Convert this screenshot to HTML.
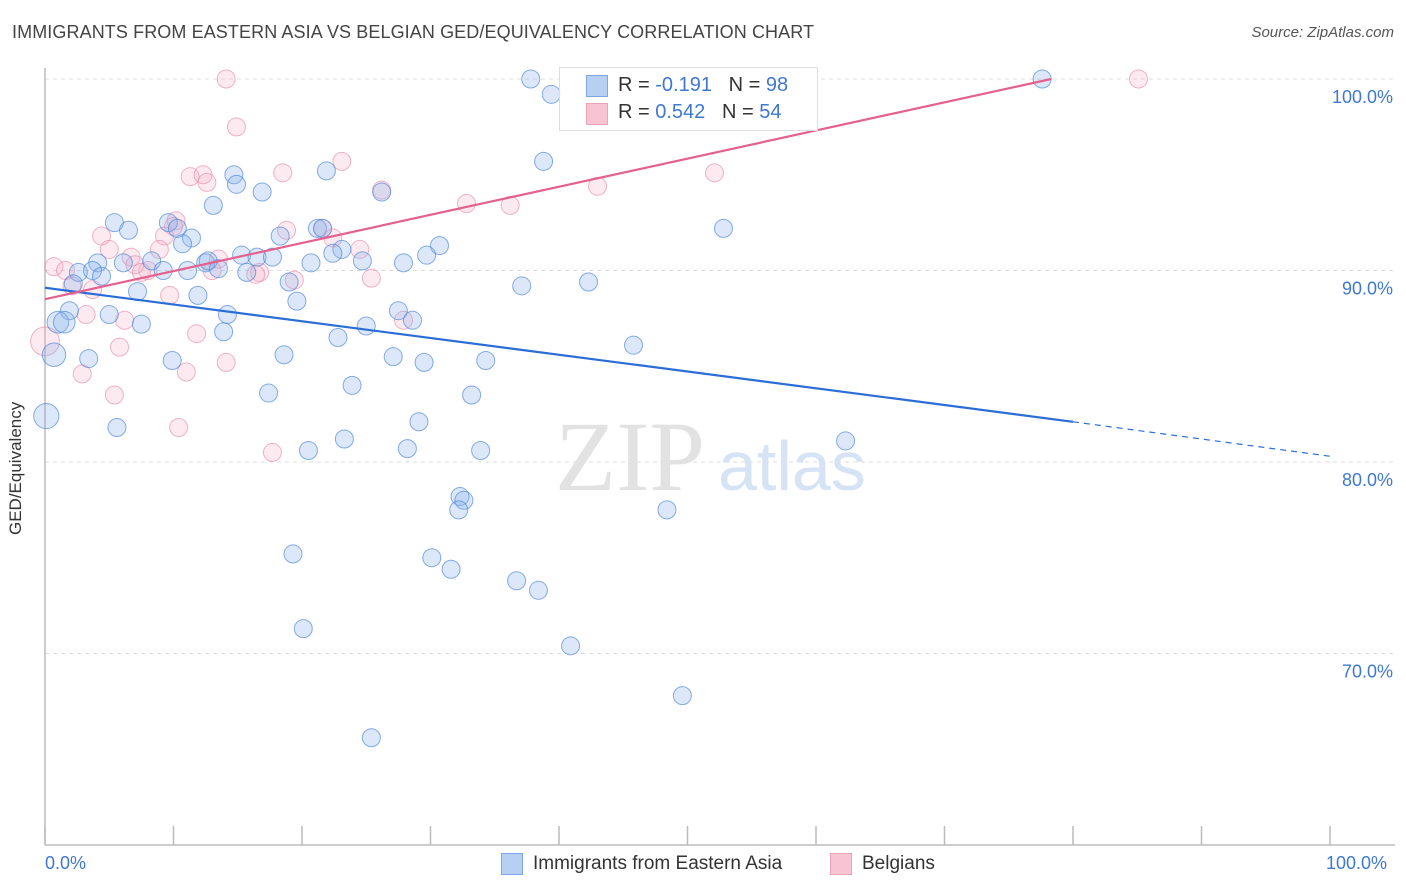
<!DOCTYPE html>
<html><head><meta charset="utf-8">
<style>
body{margin:0;background:#fff;font-family:"Liberation Sans",sans-serif;}
#wrap{position:relative;width:1406px;height:892px;overflow:hidden;}
.t{position:absolute;white-space:nowrap;}
</style></head>
<body>
<div id="wrap">
<div class="t" style="left:12px;top:22px;font-size:18px;color:#444;letter-spacing:0.1px">IMMIGRANTS FROM EASTERN ASIA VS BELGIAN GED/EQUIVALENCY CORRELATION CHART</div>
<div class="t" style="right:12px;top:24px;font-size:15px;color:#555;font-style:italic">Source: ZipAtlas.com</div>
<svg id="svg" width="1406" height="892" style="position:absolute;left:0;top:0"></svg>
</div>
<script>
const yTicks=[100,90,80,70];
const yTickLabels=["100.0%","90.0%","80.0%","70.0%"];
const xTicks=[0,10,20,30,40,50,60,70,80,90,100];
const blueX=[37.8,43.0,39.4,38.8,21.9,14.7,14.9,16.9,26.2,13.1,5.4,9.6,6.5,10.3,21.2,21.6,52.8,11.4,18.3,10.7,30.7,23.1,29.7,15.3,16.5,17.7,12.5,22.4,20.7,24.7,12.7,6.1,8.3,27.9,4.1,9.2,11.1,15.7,13.5,2.6,3.7,4.4,19.0,42.3,37.1,2.2,7.2,11.9,19.6,1.9,5.0,14.2,27.5,28.6,1.0,1.5,7.5,25.0,13.9,22.8,45.8,0.7,18.6,27.1,9.9,3.4,29.5,34.3,23.9,17.4,33.2,0.1,5.6,29.1,23.3,62.3,20.5,28.2,33.9,32.3,32.6,32.2,48.4,19.3,30.1,31.6,36.7,38.4,40.9,20.1,49.6,25.4,77.6];
const blueY=[100,99.8,99.2,95.7,95.2,95.0,94.5,94.1,94.1,93.4,92.5,92.5,92.1,92.2,92.2,92.2,92.2,91.7,91.8,91.4,91.3,91.1,90.8,90.8,90.7,90.7,90.4,90.9,90.4,90.5,90.5,90.4,90.5,90.4,90.4,90.0,90.0,89.9,90.1,89.9,90.0,89.7,89.4,89.4,89.2,89.3,88.9,88.7,88.4,87.9,87.7,87.7,87.9,87.4,87.3,87.3,87.2,87.1,86.8,86.5,86.1,85.6,85.6,85.5,85.3,85.4,85.2,85.3,84.0,83.6,83.5,82.4,81.8,82.1,81.2,81.1,80.6,80.7,80.6,78.2,78.0,77.5,77.5,75.2,75.0,74.4,73.8,73.3,70.4,71.3,67.8,65.6,100];
const blueSize=[1,1,1,1,1,1,1,1,1,1,1,1,1,1,1,1,1,1,1,1,1,1,1,1,1,1,1,1,1,1,1,1,1,1,1,1,1,1,1,1,1,1,1,1,1,1,1,1,1,1,1,1,1,1,1.2,1.2,1,1,1,1,1,1.3,1,1,1,1,1,1,1,1,1,1.4,1,1,1,1,1,1,1,1,1,1,1,1,1,1,1,1,1,1,1,1,1];
const pinkX=[14.1,85.1,14.9,23.1,18.5,11.3,12.3,12.6,43.0,26.2,32.8,36.2,52.1,10.2,10.0,18.8,21.6,4.4,9.3,22.4,5.0,8.9,24.5,0.7,13.5,6.7,1.6,8.0,7.0,7.5,16.7,16.4,13.0,19.4,25.4,2.1,3.7,9.7,3.2,6.2,27.9,11.8,5.8,0.0,14.1,11.0,2.9,5.4,10.4,17.7];
const pinkY=[100,100,97.5,95.7,95.1,94.9,95.0,94.6,94.4,94.2,93.5,93.4,95.1,92.6,92.3,92.1,92.2,91.8,91.8,91.7,91.1,91.1,91.1,90.2,90.6,90.7,90.0,90.0,90.3,89.9,89.9,89.8,90.0,89.5,89.6,89.2,89.0,88.7,87.7,87.4,87.4,86.7,86.0,86.3,85.2,84.7,84.6,83.5,81.8,80.5];
const pinkSize=[1,1,1,1,1,1,1,1,1,1,1,1,1,1,1,1,1,1,1,1,1,1,1,1,1,1,1,1,1,1,1,1,1,1,1,1,1,1,1,1,1,1,1,1.6,1,1,1,1,1,1];
const blueTrendX=[0,80,100];
const blueTrendY=[89.1,82.1,80.3];
const pinkTrendX=[0,78.3];
const pinkTrendY=[88.5,100];

const NS="http://www.w3.org/2000/svg";
const svg=document.getElementById('svg');
const X0=45,X1=1330,Y0=845,Y1=79;
function sx(v){return X0+(X1-X0)*v/100;}
function sy(v){return Y0-(Y0-Y1)*(v-60)/40;}
function mk(tag,attrs,parent){const e=document.createElementNS(NS,tag);for(const k in attrs)e.setAttribute(k,attrs[k]);(parent||svg).appendChild(e);return e;}

yTicks.forEach((t,i)=>{
  const g=mk('line',{x1:X0,x2:1393,y1:sy(t),y2:sy(t),stroke:'#dcdcdc','stroke-dasharray':'4,4','stroke-width':1});
  
  
  const tx=mk('text',{x:1393,y:sy(t)+24,'text-anchor':'end','font-size':18,fill:'#3f78d0','font-family':'Liberation Sans, sans-serif'});
  tx.textContent=yTickLabels[i];
  
  
});
const ax=mk('line',{x1:X0,x2:1395,y1:Y0,y2:Y0,stroke:'#bbb','stroke-width':1.5});


const ay=mk('line',{x1:X0,x2:X0,y1:68,y2:Y0,stroke:'#bbb','stroke-width':1.5});


xTicks.forEach(t=>{
  const l=mk('line',{x1:sx(t),x2:sx(t),y1:826,y2:Y0,stroke:'#bbb','stroke-width':1.5});
  
  
});
const wm=mk('text',{x:555,y:490,'font-size':100,fill:'#e2e2e2','font-family':'Liberation Serif, serif'});
wm.textContent='ZIP';


const wm2=mk('text',{x:718,y:490,'font-size':70,fill:'#d5e3f5','font-family':'Liberation Sans, sans-serif'});
wm2.textContent='atlas';



function pts(xs,ys,sz,fill,stroke,name){
  xs.forEach((x,i)=>{
    const c=mk('circle',{cx:sx(x),cy:sy(ys[i]),r:9*(sz[i]||1),fill:fill,stroke:stroke,'stroke-width':1});
    
    
  });
}
pts(pinkX,pinkY,pinkSize,'rgba(244,170,195,0.25)','rgba(232,130,165,0.6)','belgian-point');
pts(blueX,blueY,blueSize,'rgba(140,180,235,0.3)','rgba(70,130,215,0.65)','eastern-asia-point');

const bt=mk('line',{x1:sx(blueTrendX[0]),y1:sy(blueTrendY[0]),x2:sx(blueTrendX[1]),y2:sy(blueTrendY[1]),stroke:'#2a6dd6','stroke-width':2.2});


const bt2=mk('line',{x1:sx(blueTrendX[1]),y1:sy(blueTrendY[1]),x2:sx(blueTrendX[2]),y2:sy(blueTrendY[2]),stroke:'#2a6dd6','stroke-width':1.2,'stroke-dasharray':'6,5'});


const pt=mk('line',{x1:sx(pinkTrendX[0]),y1:sy(pinkTrendY[0]),x2:sx(pinkTrendX[1]),y2:sy(pinkTrendY[1]),stroke:'#e4608e','stroke-width':2.2});


</script>

<div class="t" style="left:6px;top:535px;transform:rotate(-90deg);transform-origin:0 0;font-size:17px;color:#333">GED/Equivalency</div>
<div class="t" style="left:45px;top:853px;font-size:18px;color:#3f78d0">0.0%</div>
<div class="t" style="left:1326px;top:853px;font-size:18px;color:#3f78d0">100.0%</div>

<div style="position:absolute;left:559px;top:67px;width:257px;height:62px;border:1px solid #ddd;background:rgba(255,255,255,0.9);font-size:20px">
 <div style="position:absolute;left:26px;top:7px;width:20px;height:20px;background:#b6cff3;border:1px solid #7ea6e4"></div>
 <div class="t" style="left:58px;top:6px;color:#333">R = <span style="color:#3f78d0">-0.191</span>&nbsp;&nbsp;&nbsp;N = <span style="color:#3f78d0">98</span></div>
 <div style="position:absolute;left:26px;top:35px;width:20px;height:20px;background:#f8c4d4;border:1px solid #eea2ba"></div>
 <div class="t" style="left:58px;top:33px;color:#333">R = <span style="color:#3f78d0">0.542</span>&nbsp;&nbsp;&nbsp;N = <span style="color:#3f78d0">54</span></div>
</div>

<div style="position:absolute;left:501px;top:853px;width:20px;height:20px;background:#b6cff3;border:1px solid #7ea6e4"></div>
<div class="t" style="left:533px;top:853px;font-size:19px;color:#333">Immigrants from Eastern Asia</div>
<div style="position:absolute;left:830px;top:853px;width:20px;height:20px;background:#f8c4d4;border:1px solid #eea2ba"></div>
<div class="t" style="left:862px;top:853px;font-size:19px;color:#333">Belgians</div>
</body></html>
